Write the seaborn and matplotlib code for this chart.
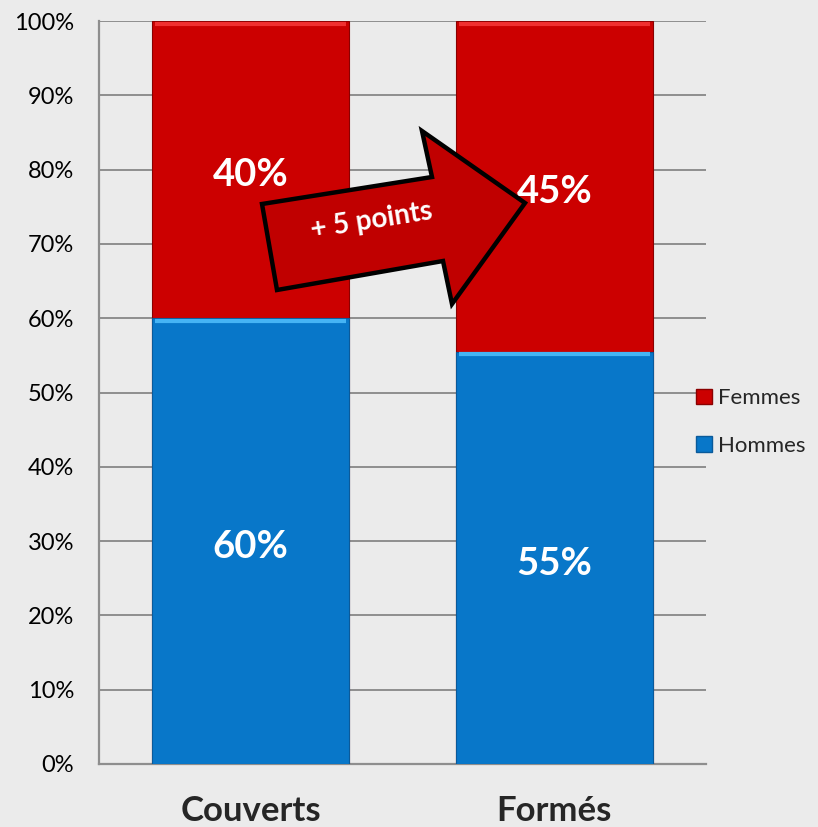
import matplotlib
matplotlib.use("Agg")
import matplotlib.pyplot as plt
import seaborn as sns
import pandas as pd
from matplotlib.patches import Polygon, Patch
from matplotlib.ticker import FuncFormatter

categories = ["Couverts", "Formés"]
hommes = [60.0, 55.5]
femmes = [40.0, 44.5]
hommes_labels = ["60%", "55%"]
femmes_labels = ["40%", "45%"]
yticks = [0, 10, 20, 30, 40, 50, 60, 70, 80, 90, 100]

RED = "#cc0000"
BLUE = "#0877c9"
BG = "#ebebeb"
GRID = "#8e8e8e"

sns.set_theme(style="white")
plt.rcParams["font.family"] = ["Lato", "DejaVu Sans"]

df = pd.DataFrame({"cat": categories, "hommes": hommes, "femmes": femmes})
df["total"] = df["hommes"] + df["femmes"]

W, H = 818, 827
fig = plt.figure(figsize=(W / 100, H / 100), dpi=100, facecolor=BG)
ax = fig.add_axes([99 / W, 1 - 764 / H, (706 - 99) / W, (764 - 21) / H])
ax.set_facecolor(BG)

sns.barplot(data=df, x="cat", y="total", color=RED, width=0.65, ax=ax,
            saturation=1, edgecolor="#8a0000", linewidth=0.8, zorder=3)
sns.barplot(data=df, x="cat", y="hommes", color=BLUE, width=0.65, ax=ax,
            saturation=1, edgecolor="#0a5a9a", linewidth=0.8, zorder=3)

# bevel highlight at the top of each segment
for i, (h, t) in enumerate(zip(df["hommes"], df["total"])):
    ax.plot([i - 0.315, i + 0.315], [h - 0.35, h - 0.35], color="#45b4f5", lw=3, zorder=4, solid_capstyle="butt")
    ax.plot([i - 0.315, i + 0.315], [t - 0.35, t - 0.35], color="#f03030", lw=3, zorder=4, solid_capstyle="butt")

for i in range(len(categories)):
    ax.annotate(hommes_labels[i], (i, hommes[i] / 2), xytext=(0, -4.5), textcoords="offset points",
                ha="center", va="center", color="white", fontsize=27.5, fontweight="bold", zorder=5)
    ax.annotate(femmes_labels[i], (i, hommes[i] + femmes[i] / 2), xytext=(0, -4), textcoords="offset points",
                ha="center", va="center", color="white", fontsize=27.5, fontweight="bold", zorder=5)

ax.set_ylim(0, 100)
ax.set_xlim(-0.5, 1.5)
ax.set_yticks(yticks)
ax.yaxis.set_major_formatter(FuncFormatter(lambda v, p: f"{int(v)}%"))
ax.yaxis.grid(True, color=GRID, lw=1.4, zorder=0)
ax.set_axisbelow(True)
ax.set_xlabel("")
ax.set_ylabel("")
ax.tick_params(axis="y", labelsize=17, colors="black", length=0, pad=18)
ax.tick_params(axis="x", labelsize=25, length=0, pad=22)
for lab in ax.get_xticklabels():
    lab.set_fontweight("bold")
for s in ["top", "right"]:
    ax.spines[s].set_visible(False)
for s in ["left", "bottom"]:
    ax.spines[s].set_color(GRID)
    ax.spines[s].set_linewidth(1.6)

# arrow (decoration) in pixel coords
pts = [(262, 204), (432, 177), (422, 131), (525, 203), (452, 304), (443, 261), (277, 290)]
poly = Polygon([(x / W, 1 - y / H) for x, y in pts], closed=True, transform=fig.transFigure,
               facecolor="#c00000", edgecolor="black", lw=3.2, joinstyle="miter", zorder=10)
fig.patches.append(poly)
fig.text(372 / W, 1 - 221 / H, "+ 5 points", rotation=9, ha="center", va="center",
         color="white", fontsize=20, fontweight="bold", zorder=11)

handles = [Patch(facecolor=RED, edgecolor="#8a0000", label="Femmes"),
           Patch(facecolor=BLUE, edgecolor="#0a5a9a", label="Hommes")]
fig.legend(handles=handles, loc="center left", bbox_to_anchor=(696 / W, 1 - 422 / H),
           frameon=False, fontsize=16, handlelength=0.7, handleheight=0.7,
           handletextpad=0.3, labelspacing=1.25, borderpad=0, borderaxespad=0)

fig.savefig("out.png", dpi=100, facecolor=BG)
